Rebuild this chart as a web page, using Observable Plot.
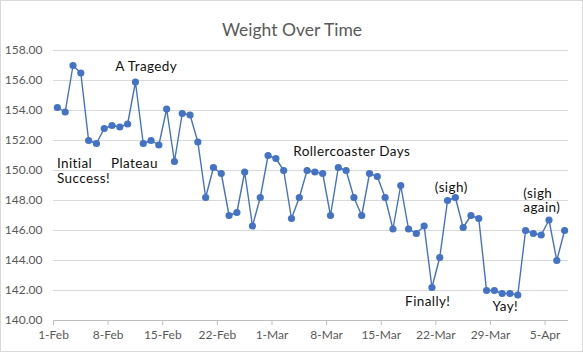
<!DOCTYPE html>
<html>
<head>
<meta charset="utf-8">
<script src="https://cdn.jsdelivr.net/npm/d3@7"></script>
<script src="https://cdn.jsdelivr.net/npm/@observablehq/plot@0.6"></script>
<style>
  html, body { margin: 0; padding: 0; background: #fff; }
  #chart svg { display: block; outline: 1px solid #d9d9d9; outline-offset: -1px; }
  #chart svg g.notes text { letter-spacing: 0.4px; }
</style>
</head>
<body>
<div id="chart"></div>
<script>
// Daily weights, one per day starting 1-Feb
const startDate = "2021-02-01";
const weights = [
  154.2, 153.9, 157.0, 156.5, 152.0, 151.8, 152.8, 153.0, 152.9, 153.1,
  155.9, 151.8, 152.0, 151.7, 154.1, 150.6, 153.8, 153.7, 151.9, 148.2,
  150.2, 149.8, 147.0, 147.2, 149.9, 146.3, 148.2, 151.0, 150.8, 150.0,
  146.8, 148.2, 150.0, 149.9, 149.8, 147.0, 150.2, 150.0, 148.2, 147.0,
  149.8, 149.6, 148.2, 146.1, 149.0, 146.1, 145.8, 146.3, 142.2, 144.2,
  148.0, 148.2, 146.2, 147.0, 146.8, 142.0, 142.0, 141.8, 141.8, 141.7,
  146.0, 145.8, 145.7, 146.7, 144.0, 146.0
];
const yTicks = [140, 142, 144, 146, 148, 150, 152, 154, 156, 158];
const xTickDates = ["2021-02-01", "2021-02-08", "2021-02-15", "2021-02-22", "2021-03-01",
                    "2021-03-08", "2021-03-15", "2021-03-22", "2021-03-29", "2021-04-05"];
const annotationLabels = ["A Tragedy", "Initial\nSuccess!", "Plateau", "Rollercoaster Days",
                          "(sigh)", "Finally!", "Yay!", "(sigh\nagain)"];
const annotationDates = ["2021-02-08T22:00Z", "2021-02-01T10:30Z", "2021-02-08T09:00Z", "2021-03-03T17:30Z",
                         "2021-03-21T21:00Z", "2021-03-18T01:30Z", "2021-03-29T06:00Z", "2021-04-02T05:00Z"];
const annotationValues = [156.95, 149.97, 150.45, 151.25, 148.89, 141.29, 140.93, 148.02];
const titleText = "Weight Over Time";

const DAY = 24 * 3600 * 1000;
const start = new Date(startDate + "T00:00Z");
// Excel date axis: each point sits in the middle of its day
const data = weights.map((w, i) => ({date: new Date(start.getTime() + i * DAY + DAY / 2), weight: w}));
const notes = annotationLabels.map((t, i) => ({label: t, date: new Date(annotationDates[i]), value: annotationValues[i]}));
const ticks = xTickDates.map(d => new Date(d + "T00:00Z"));
const fmtDate = d3.utcFormat("%-d-%b");

const font = "Lato, 'Open Sans', sans-serif";
const chart = Plot.plot({
  width: 583,
  height: 352,
  marginLeft: 53,
  marginRight: 15,
  marginTop: 50,
  marginBottom: 32,
  style: {fontFamily: font, background: "#fff", overflow: "visible"},
  x: {type: "utc", domain: [start, new Date(start.getTime() + weights.length * DAY)], axis: null},
  y: {domain: [140, 158], axis: null},
  marks: [
    Plot.gridY(yTicks, {stroke: "#d9d9d9", strokeOpacity: 1, strokeWidth: 1}),
    Plot.ruleY([140], {stroke: "#bfbfbf", strokeWidth: 1}),
    Plot.axisX({ticks: ticks, tickFormat: fmtDate, tickSize: 5, tickPadding: 5, stroke: "#bfbfbf",
                color: "#595959", fontSize: 12, label: null}),
    Plot.axisY({ticks: yTicks, tickFormat: d => d.toFixed(2), tickSize: 0, tickPadding: 11,
                color: "#595959", fontSize: 12, label: null}),
    Plot.line(data, {x: "date", y: "weight", stroke: "#4472C4", strokeWidth: 1.4}),
    Plot.dot(data, {x: "date", y: "weight", r: 3.6, fill: "#4472C4", stroke: "none"}),
    Plot.text(notes, {x: "date", y: "value", text: "label", textAnchor: "start", lineAnchor: "middle",
                      fontSize: 13.5, fill: "#111", lineHeight: 1.08, className: "notes"}),
    Plot.text([titleText], {frameAnchor: "top", dx: -19, dy: -27, fontSize: 17.5, fill: "#595959"})
  ]
});
document.getElementById("chart").appendChild(chart);
</script>
</body>
</html>
